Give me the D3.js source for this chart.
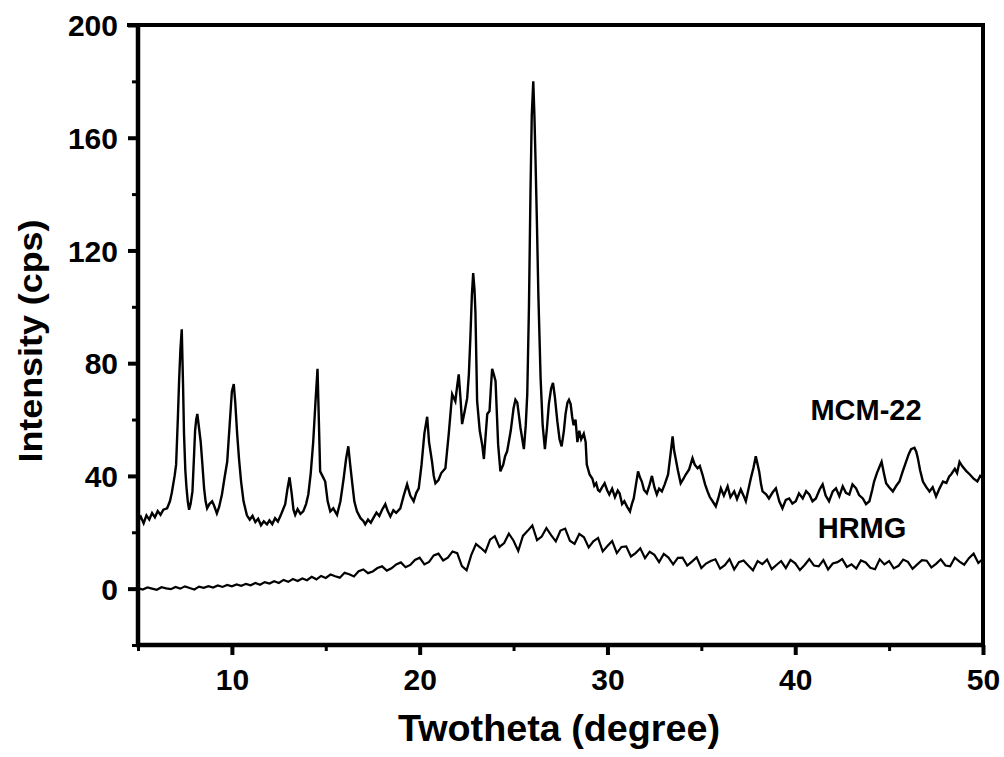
<!DOCTYPE html>
<html>
<head>
<meta charset="utf-8">
<script src="https://cdn.jsdelivr.net/npm/d3@7"></script>
<style>
  html, body { margin: 0; padding: 0; background: #fff; }
  svg { display: block; }
  text { font-family: "Liberation Sans", Arial, sans-serif; fill: #000; }
</style>
</head>
<body>
<svg id="chart" width="1004" height="757"></svg>
<script>
// ---- Data ----
const mcmX = [5.00,5.15,5.30,5.45,5.60,5.75,5.90,6.05,6.20,6.35,6.55,6.70,6.80,6.95,7.03,7.12,7.19,7.26,7.33,7.40,7.45,7.52,7.58,7.65,7.72,7.80,7.90,7.97,8.04,8.10,8.16,8.25,8.34,8.43,8.52,8.60,8.68,8.80,8.95,9.05,9.20,9.32,9.47,9.60,9.75,9.88,10.00,10.10,10.18,10.28,10.38,10.49,10.62,10.80,10.95,11.10,11.25,11.40,11.55,11.70,11.87,12.00,12.15,12.30,12.45,12.60,12.72,12.84,12.95,13.07,13.18,13.28,13.37,13.50,13.65,13.80,13.95,14.07,14.20,14.33,14.45,14.56,14.63,14.70,14.82,14.97,15.10,15.24,15.40,15.60,15.78,15.95,16.08,16.20,16.30,16.40,16.52,16.66,16.85,17.00,17.10,17.25,17.40,17.53,17.70,17.85,18.00,18.17,18.30,18.44,18.60,18.75,18.97,19.15,19.33,19.50,19.68,19.82,19.95,20.10,20.25,20.40,20.50,20.66,20.75,20.84,21.00,21.15,21.37,21.55,21.73,21.90,22.00,22.08,22.18,22.26,22.40,22.53,22.62,22.70,22.78,22.85,22.92,22.97,23.06,23.20,23.33,23.42,23.52,23.60,23.72,23.80,23.86,23.95,24.04,24.18,24.30,24.45,24.55,24.66,24.85,25.00,25.10,25.20,25.37,25.55,25.65,25.73,25.82,25.90,25.97,26.05,26.11,26.17,26.25,26.32,26.44,26.55,26.67,26.78,26.88,27.00,27.10,27.20,27.33,27.45,27.56,27.68,27.77,27.87,27.95,28.04,28.12,28.20,28.30,28.40,28.50,28.60,28.74,28.84,28.90,29.05,29.20,29.30,29.40,29.50,29.59,29.72,29.85,29.98,30.10,30.25,30.40,30.55,30.65,30.78,30.90,31.05,31.20,31.30,31.40,31.52,31.63,31.73,31.83,31.95,32.10,32.25,32.37,32.50,32.63,32.75,32.90,33.05,33.23,33.36,33.47,33.55,33.63,33.75,33.90,34.05,34.17,34.35,34.53,34.65,34.80,34.92,35.06,35.20,35.33,35.45,35.60,35.77,35.90,36.04,36.20,36.40,36.55,36.75,36.90,37.10,37.25,37.37,37.50,37.63,37.78,37.90,38.00,38.08,38.18,38.26,38.45,38.60,38.80,38.97,39.15,39.32,39.50,39.68,39.85,40.03,40.20,40.40,40.58,40.75,40.92,41.10,41.30,41.46,41.62,41.80,42.00,42.17,42.35,42.53,42.70,42.88,43.05,43.24,43.40,43.60,43.77,43.95,44.10,44.20,44.35,44.50,44.60,44.72,44.84,45.00,45.20,45.38,45.55,45.72,45.90,46.05,46.17,46.35,46.45,46.53,46.65,46.80,46.98,47.15,47.32,47.50,47.68,47.87,48.05,48.20,48.30,48.50,48.62,48.75,48.90,49.10,49.30,49.50,49.70,49.85,50.00];
const mcmY = [24,25.5,23.2,26,24.5,26.8,25.3,27.5,26.2,28,28.5,31,34,40,44,60,74,85,92,72,55,42,36,31,28,30,34.5,45,56,60,62,57,52,44,35.6,31,28.5,30,31,29.5,26.7,29,33.4,39,45,58,70,72.6,66,55,46,38,31,26,24.5,25.8,23.6,24.8,22.5,23.9,22.8,24.2,22.9,25,23.8,26,28,30,35,39.5,34,28,26.2,28.2,26.5,27.4,30,33.4,41,52,66,78,60,41.6,40,38,31,27.4,28.5,26.2,31,39,46,50.5,44,38,31,27.4,25,24,22.8,24.5,23.4,25,27,25.8,28,30,27.5,25.6,27.8,26.9,28.5,33,37,33,31,34,35.6,44,55,61,52,45,40,37.4,38.5,41,42.7,55,69,66.5,72,76,67,58.4,63,67.6,76,89,104,112,106,98,66.5,56,51,46,55,62,63,72,78,76,73.7,51,41.6,44,47,48.8,56,64,67,66,57,49.5,58,69,100,140,168,180,168,152,128,104.6,74.7,58,49.5,57,65.5,71,73,68,59.4,53,50.5,56,62,66,67,65.5,61,58,60,52,56,53,55,52,44,40.5,39,36.5,37.4,35,34.5,36,37.4,35,33.4,35.5,32.5,34.8,33.8,30,31,29,27.4,30,32,37,41.6,39.5,38,35,33.8,37,40,36,33.4,35.5,34.5,37,40.5,47.7,54,49,46.3,42,37.4,39,40.5,42.3,46.3,44,42.7,43.5,40.5,37,34.5,32.5,31,29.2,32,35.6,33,36.3,32.5,34.5,31.8,35.2,33,31,35,39,43,47,44,41.6,37,34.5,33.5,32,34.2,35.6,31,28.5,31.5,32,30.2,31,33.8,32,34.6,33.4,31,32,35.2,37,33,31,34.5,35.6,32.8,36.3,34,33.4,37,35.6,33.2,32,30,31,35,38,41,43.4,45,41,37.4,36,34.5,36.5,38,41.5,45,47.8,49.5,50,48.5,46.3,42,38,36,34.5,36,32.7,35.5,38,37.5,39.8,40.5,42.5,41,45,43.4,41.8,40.5,39,38,40,39];

const hrmgX = [5.00,5.25,5.50,5.75,6.00,6.25,6.50,6.75,7.00,7.25,7.50,7.75,8.00,8.25,8.50,8.75,9.00,9.25,9.50,9.75,10.00,10.25,10.50,10.75,11.00,11.25,11.50,11.75,12.00,12.25,12.50,12.75,13.00,13.25,13.50,13.75,14.00,14.25,14.50,14.75,15.00,15.25,15.50,15.75,16.00,16.25,16.50,16.75,17.00,17.25,17.50,17.75,18.00,18.25,18.50,18.75,19.00,19.25,19.50,19.75,20.00,20.25,20.50,20.75,21.00,21.25,21.50,21.75,22.00,22.25,22.50,22.75,23.00,23.25,23.50,23.75,24.00,24.25,24.50,24.75,25.00,25.25,25.50,25.75,26.00,26.25,26.50,26.75,27.00,27.25,27.50,27.75,28.00,28.25,28.50,28.75,29.00,29.25,29.50,29.75,30.00,30.25,30.50,30.75,31.00,31.25,31.50,31.75,32.00,32.25,32.50,32.75,33.00,33.25,33.50,33.75,34.00,34.25,34.50,34.75,35.00,35.25,35.50,35.75,36.00,36.25,36.50,36.75,37.00,37.25,37.50,37.75,38.00,38.25,38.50,38.75,39.00,39.25,39.50,39.75,40.00,40.25,40.50,40.75,41.00,41.25,41.50,41.75,42.00,42.25,42.50,42.75,43.00,43.25,43.50,43.75,44.00,44.25,44.50,44.75,45.00,45.25,45.50,45.75,46.00,46.25,46.50,46.75,47.00,47.25,47.50,47.75,48.00,48.25,48.50,48.75,49.00,49.25,49.50,49.75,50.00];
const hrmgY = [0.2,-0.3,0.4,0.0,-0.4,0.5,0.1,-0.2,0.6,0.0,0.8,0.2,-0.3,0.7,0.3,0.9,0.4,1.1,0.6,1.3,0.8,1.5,1.0,1.7,1.2,2.0,1.4,2.3,1.8,2.6,2.0,3.1,2.4,3.4,2.7,3.6,3.0,4.2,3.3,4.5,
  3.8,5.0,4.4,3.9,5.6,5.1,4.3,6.2,6.8,5.5,6.1,7.3,7.9,6.4,7.2,8.6,9.3,7.6,8.4,10.2,11.0,8.6,9.5,11.8,12.4,10.0,11.0,13.2,12.6,8.0,6.5,
  12.0,15.8,14.5,13.0,17.4,18.6,14.8,16.2,19.5,17.0,13.4,18.7,20.5,22.4,17.2,18.5,21.5,19.0,16.8,20.6,21.3,17.0,15.9,19.4,18.2,14.6,16.8,18.0,13.2,15.1,16.9,12.6,14.8,15.0,11.4,12.6,14.3,10.8,13.1,12.0,9.4,12.3,11.0,8.6,10.9,11.0,8.2,9.6,11.1,7.3,8.9,9.8,10.4,7.1,8.3,10.5,6.8,9.4,10.0,8.2,6.5,9.8,8.7,10.3,6.9,8.4,9.8,7.3,10.2,9.0,6.6,8.4,10.5,8.2,7.9,10.1,6.8,8.9,9.4,10.5,7.7,8.6,7.1,10.0,9.3,7.4,6.9,10.4,8.6,9.8,7.2,8.1,10.3,9.5,7.0,8.6,10.1,9.9,7.5,8.8,10.4,8.2,7.9,11.0,9.6,8.5,10.8,12.4,9.1,10.6];

const xTicks = [10, 20, 30, 40, 50];
const yTicks = [0, 40, 80, 120, 160, 200];
const xMinorTicks = [5, 15, 25, 35, 45];
const yMinorTicks = [-20, 20, 60, 100, 140, 180];
const seriesLabels = ["MCM-22", "HRMG"];
const xTitle = "Twotheta (degree)";
const yTitle = "Intensity (cps)";

// ---- Layout ----
const svg = d3.select("#chart");
const L = 138, R = 983, T = 25, B = 645;
const x = d3.scaleLinear().domain([5, 50]).range([L, R]);
const y = d3.scaleLinear().domain([-20, 200]).range([B, T]);

svg.append("defs").append("clipPath").attr("id", "clip")
  .append("rect").attr("x", L).attr("y", T - 2).attr("width", R - L).attr("height", B - T + 2);

const line = d3.line().x(d => x(d[0])).y(d => y(d[1]));
const mcm = mcmX.map((v, i) => [v, mcmY[i]]);
const hrmg = hrmgX.map((v, i) => [v, hrmgY[i]]);

const g = svg.append("g").attr("clip-path", "url(#clip)");
g.append("path").datum(hrmg).attr("d", line)
  .attr("fill", "none").attr("stroke", "#000").attr("stroke-width", 2.2).attr("stroke-linejoin", "miter");
g.append("path").datum(mcm).attr("d", line)
  .attr("fill", "none").attr("stroke", "#000").attr("stroke-width", 2.4).attr("stroke-linejoin", "miter");

// ---- Axes ----
const xAxis = d3.axisBottom(x).tickValues(xTicks).tickSize(10).tickPadding(14).tickFormat(d3.format("d"));
const yAxis = d3.axisLeft(y).tickValues(yTicks).tickSize(10).tickPadding(10).tickFormat(d3.format("d"));

const gx = svg.append("g").attr("transform", `translate(0,${B})`).call(xAxis);
const gy = svg.append("g").attr("transform", `translate(${L},0)`).call(yAxis);
[gx, gy].forEach(a => {
  a.select(".domain").remove();
  a.selectAll(".tick line").attr("stroke", "#000").attr("stroke-width", 4);
  a.selectAll(".tick text").attr("font-size", 30).attr("font-weight", "bold")
    .attr("font-family", "'Liberation Sans', Arial, sans-serif");
});
gy.selectAll(".tick text").attr("dy", "0.36em");

// minor ticks
const gxm = svg.append("g").attr("transform", `translate(0,${B})`)
  .call(d3.axisBottom(x).tickValues(xMinorTicks).tickSize(6).tickFormat(""));
const gym = svg.append("g").attr("transform", `translate(${L},0)`)
  .call(d3.axisLeft(y).tickValues(yMinorTicks).tickSize(6).tickFormat(""));
[gxm, gym].forEach(a => {
  a.select(".domain").remove();
  a.selectAll(".tick line").attr("stroke", "#000").attr("stroke-width", 3);
});

// frame
svg.append("line").attr("x1", L).attr("x2", L).attr("y1", T - 2).attr("y2", B + 2)
  .attr("stroke", "#000").attr("stroke-width", 4.5);
svg.append("line").attr("x1", L - 2).attr("x2", R + 2).attr("y1", B).attr("y2", B)
  .attr("stroke", "#000").attr("stroke-width", 4.5);
svg.append("line").attr("x1", 127).attr("x2", R + 2).attr("y1", T).attr("y2", T)
  .attr("stroke", "#000").attr("stroke-width", 4);
svg.append("line").attr("x1", R).attr("x2", R).attr("y1", T).attr("y2", B + 2)
  .attr("stroke", "#000").attr("stroke-width", 4);

// titles
svg.append("text").attr("x", 559).attr("y", 741).attr("text-anchor", "middle")
  .attr("font-size", 36).attr("font-weight", "bold")
  .attr("textLength", 322).attr("lengthAdjust", "spacingAndGlyphs").text(xTitle);
svg.append("text").attr("transform", "translate(42,341) rotate(-90)").attr("text-anchor", "middle")
  .attr("font-size", 34).attr("font-weight", "bold")
  .attr("textLength", 243).attr("lengthAdjust", "spacingAndGlyphs").text(yTitle);

// series labels
svg.append("text").attr("x", 866).attr("y", 420).attr("text-anchor", "middle")
  .attr("font-size", 29).attr("font-weight", "bold").text(seriesLabels[0]);
svg.append("text").attr("x", 862).attr("y", 538).attr("text-anchor", "middle")
  .attr("font-size", 29).attr("font-weight", "bold").text(seriesLabels[1]);
</script>
</body>
</html>
